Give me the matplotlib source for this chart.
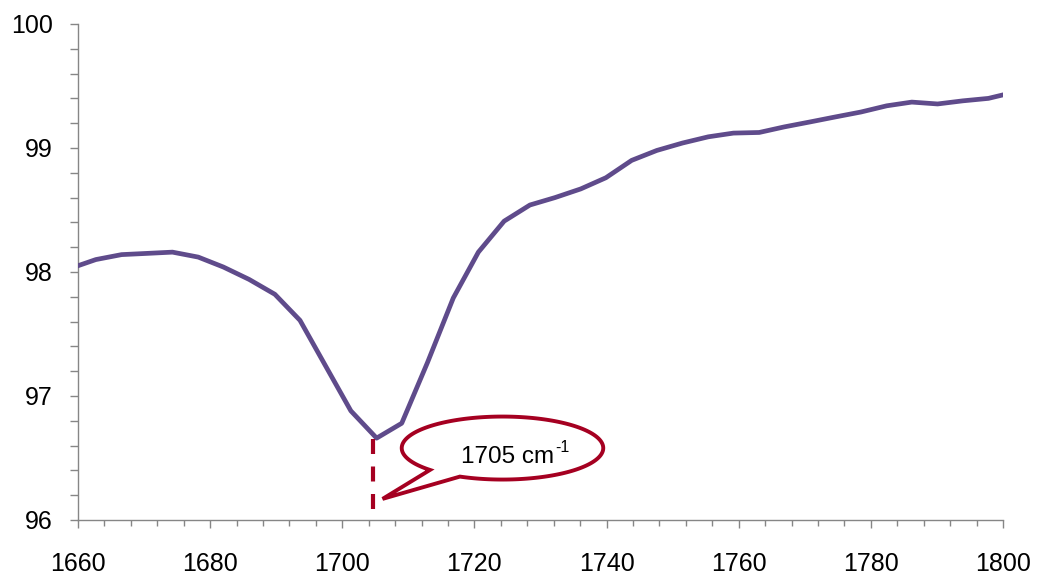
import numpy as np
import matplotlib
matplotlib.use("Agg")
import matplotlib.pyplot as plt
from matplotlib.patches import Polygon

plt.rcParams['font.family'] = ['Liberation Sans', 'DejaVu Sans']

# wavenumber (cm-1) and transmittance
wavenumber = [1658.9, 1662.7, 1666.6, 1670.5, 1674.3, 1678.2, 1682.0, 1685.9,
              1689.8, 1693.6, 1697.5, 1701.3, 1705.2, 1709.0, 1712.9, 1716.8,
              1720.6, 1724.5, 1728.4, 1732.2, 1736.1, 1739.9, 1743.8, 1747.6,
              1751.5, 1755.4, 1759.2, 1763.1, 1766.9, 1770.8, 1774.6, 1778.5,
              1782.4, 1786.2, 1790.1, 1793.9, 1797.8, 1801.7]
transmittance = [98.03, 98.10, 98.14, 98.15, 98.16, 98.12, 98.04, 97.94,
                 97.82, 97.61, 97.24, 96.88, 96.66, 96.78, 97.27, 97.79,
                 98.16, 98.41, 98.54, 98.60, 98.67, 98.76, 98.90, 98.98,
                 99.04, 99.09, 99.12, 99.125, 99.17, 99.21, 99.25, 99.29,
                 99.34, 99.37, 99.355, 99.38, 99.40, 99.45]
xticks = [1660, 1680, 1700, 1720, 1740, 1760, 1780, 1800]
yticks = [96, 97, 98, 99, 100]
peak = 1705
peak_label = '1705 cm'
peak_unit_exp = '-1'

red = '#A50021'
grey = '#868686'

fig = plt.figure(figsize=(10.37, 5.75), dpi=100)
ax = fig.add_axes([0.0752, 0.0957, 0.8920, 0.8626])

ax.plot(wavenumber, transmittance, color='#5F4B8B', lw=3.4,
        solid_joinstyle='round', solid_capstyle='butt', zorder=3)

ax.set_xlim(1660, 1800)
ax.set_ylim(96, 100)
ax.set_xticks(xticks)
ax.set_yticks(yticks)
ax.set_xticks(np.arange(1660, 1801, 4), minor=True)
ax.set_yticks(np.arange(96, 100.01, 0.2), minor=True)

for s in ['top', 'right']:
    ax.spines[s].set_visible(False)
for s in ['left', 'bottom']:
    ax.spines[s].set_color(grey)
    ax.spines[s].set_linewidth(1.0)

ax.tick_params(axis='both', which='both', direction='out', color=grey,
               width=1.0, labelsize=18)
ax.tick_params(axis='x', which='major', length=6, pad=17)
ax.tick_params(axis='x', which='minor', length=4.5)
ax.tick_params(axis='y', which='major', length=6, pad=12)
ax.tick_params(axis='y', which='minor', length=5.5)

# dashed marker under the minimum
ax.plot([peak - 0.35, peak - 0.35], [96.65, 96.06], color=red, lw=3,
        dashes=(3.6, 3.0), zorder=4)

# speech bubble: ellipse plus a tail pointing at the marker
cx, cy, rx, ry = 1724.25, 96.58, 15.25, 0.254
t = np.radians(np.linspace(245, 584, 200))
px = cx + rx * np.cos(t)
py = cy + ry * np.sin(t)
tip = (1706.1, 96.17)
pts = np.column_stack([np.append(px, tip[0]), np.append(py, tip[1])])
bubble = Polygon(pts, closed=True, facecolor='white', edgecolor=red,
                 lw=2.8, joinstyle='miter', zorder=5)
ax.add_patch(bubble)
tx = ax.text(1732.0, 96.458, peak_label, fontsize=17.5, ha='right',
             va='baseline', zorder=6)
ax.annotate(peak_unit_exp, xy=(1732.0, 96.458), xytext=(1, 8),
            textcoords='offset points', fontsize=11.5, ha='left',
            va='baseline', zorder=6)

fig.savefig('out.png', dpi=100)
